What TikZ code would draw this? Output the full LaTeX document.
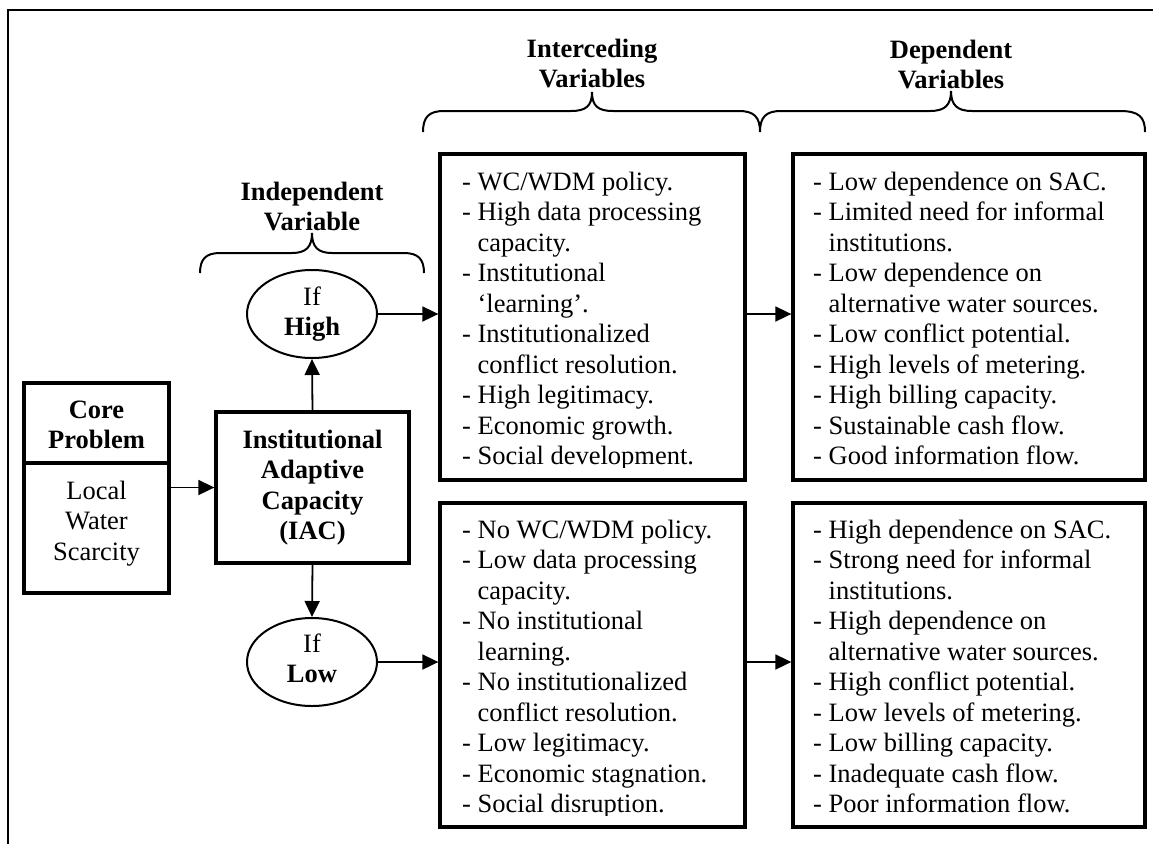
\documentclass[tikz,border=0pt]{standalone}
\usepackage{fontspec}
\setmainfont{Liberation Serif}
\usetikzlibrary{shapes.geometric,arrows.meta}
\newcommand{\leftlines}[1]{\begin{tabular}[t]{@{}l@{}}#1\end{tabular}}
\newcommand{\centerlines}[1]{\begin{tabular}[t]{@{}c@{}}#1\end{tabular}}
\newcommand{\contind}{\hphantom{- }}
\begin{document}
\begin{tikzpicture}[x=1pt,y=-1pt,
  font=\fontsize{26.5}{30.5}\selectfont,
  box/.style={draw, line width=3.3pt, inner sep=0pt},
  ell/.style={ellipse, draw, line width=2pt, minimum width=130pt, minimum height=88pt, inner sep=0pt},
  txt/.style={inner sep=0pt, anchor=base},
  txtl/.style={inner sep=0pt, anchor=base west},
  arr/.style={-{Triangle[length=16pt,width=15pt]}, line width=1.8pt},
  brace/.style={line width=2pt},
  frame/.style={line width=2pt}]
\useasboundingbox (0,0) rectangle (1153,844);

% outer frame (top and left edges)
\draw[frame] (8,844) -- (8,10) -- (1153,10);

% headings
\node[txt] (hind) at (312,200) {\centerlines{\textbf{Independent}\\\textbf{Variable}}};
\node[txt] (hint) at (592,57) {\centerlines{\textbf{Interceding}\\\textbf{Variables}}};
\node[txt] (hdep) at (951,58) {\centerlines{\textbf{Dependent}\\\textbf{Variables}}};

% braces
\draw[brace] (200,273) .. controls (200,259) and (206,253) .. (220,253) -- (292,253)
  .. controls (306,253) and (312,247) .. (312,233)
  .. controls (312,247) and (318,253) .. (332,253) -- (404,253)
  .. controls (418,253) and (424,259) .. (424,273);
\draw[brace] (423,132) .. controls (423,117) and (429,111) .. (444,111) -- (571,111)
  .. controls (586,111) and (592,106) .. (592,92)
  .. controls (592,106) and (598,111) .. (613,111) -- (739,111)
  .. controls (754,111) and (760,117) .. (760,132)
  .. controls (760,117) and (766,111) .. (781,111) -- (930,111)
  .. controls (945,111) and (951,105) .. (951,91)
  .. controls (951,105) and (957,111) .. (972,111) -- (1120,111)
  .. controls (1139,111) and (1145,117) .. (1145,132);

% core problem
\node[box, minimum width=145pt, minimum height=210pt] (core) at (96.5,488) {};
\draw[line width=3.3pt] (24,463) -- (169,463);
\node[txt] (coret) at (96.5,418) {\centerlines{\textbf{Core}\\\textbf{Problem}}};
\node[txt] (coreb) at (96.5,499) {\centerlines{Local\\Water\\Scarcity}};

% IAC
\node[box, minimum width=193pt, minimum height=151pt] (iac) at (312.5,487.5) {};
\node[txt] (iact) at (312.5,448) {\centerlines{\textbf{Institutional}\\\textbf{Adaptive}\\\textbf{Capacity}\\\textbf{(IAC)}}};

% ellipses
\node[ell] (high) at (312,314) {};
\node[txt] (hight) at (312,305) {\centerlines{If\\\textbf{High}}};
\node[ell] (low) at (312,662) {};
\node[txt] (lowt) at (312,652) {\centerlines{If\\\textbf{Low}}};

% variable boxes
\node[box, minimum width=305pt, minimum height=326pt] (b1) at (592.5,317) {};
\node[box, minimum width=305pt, minimum height=324pt] (b2) at (592.5,665) {};
\node[box, minimum width=352pt, minimum height=326pt] (b3) at (969,317) {};
\node[box, minimum width=352pt, minimum height=324pt] (b4) at (969,665) {};

\begin{scope}
\clip (440,154) rectangle (745,467);
\node[txtl] (b1t) at (462,190) {\leftlines{- WC/WDM policy.\\
- High data processing\\ \contind capacity.\\
- Institutional\\ \contind ‘learning’.\\
- Institutionalized\\ \contind conflict resolution.\\
- High legitimacy.\\
- Economic growth.\\
- Social development.}};
\end{scope}
\begin{scope}
\clip (440,503) rectangle (745,815);
\node[txtl] (b2t) at (462,538) {\leftlines{- No WC/WDM policy.\\
- Low data processing\\ \contind capacity.\\
- No institutional\\ \contind learning.\\
- No institutionalized\\ \contind conflict resolution.\\
- Low legitimacy.\\
- Economic stagnation.\\
- Social disruption.}};
\end{scope}
\begin{scope}
\clip (793,154) rectangle (1145,467);
\node[txtl] (b3t) at (813,190) {\leftlines{- Low dependence on SAC.\\
- Limited need for informal\\ \contind institutions.\\
- Low dependence on\\ \contind alternative water sources.\\
- Low conflict potential.\\
- High levels of metering.\\
- High billing capacity.\\
- Sustainable cash flow.\\
- Good information flow.}};
\end{scope}
\begin{scope}
\clip (793,503) rectangle (1145,815);
\node[txtl] (b4t) at (813,538) {\leftlines{- High dependence on SAC.\\
- Strong need for informal\\ \contind institutions.\\
- High dependence on\\ \contind alternative water sources.\\
- High conflict potential.\\
- Low levels of metering.\\
- Low billing capacity.\\
- Inadequate cash flow.\\
- Poor information flow.}};
\end{scope}

% connectors
\draw[arr] (core.east |- iac.west) -- (iac.west);
\draw[arr] (iac.north) -- (high.south);
\draw[arr] (iac.south) -- (low.north);
\draw[arr] (high.east) -- (high.east -| b1.west);
\draw[arr] (low.east) -- (low.east -| b2.west);
\draw[arr] (b1.east |- high.east) -- (b3.west |- high.east);
\draw[arr] (b2.east |- low.east) -- (b4.west |- low.east);
\end{tikzpicture}
\end{document}
